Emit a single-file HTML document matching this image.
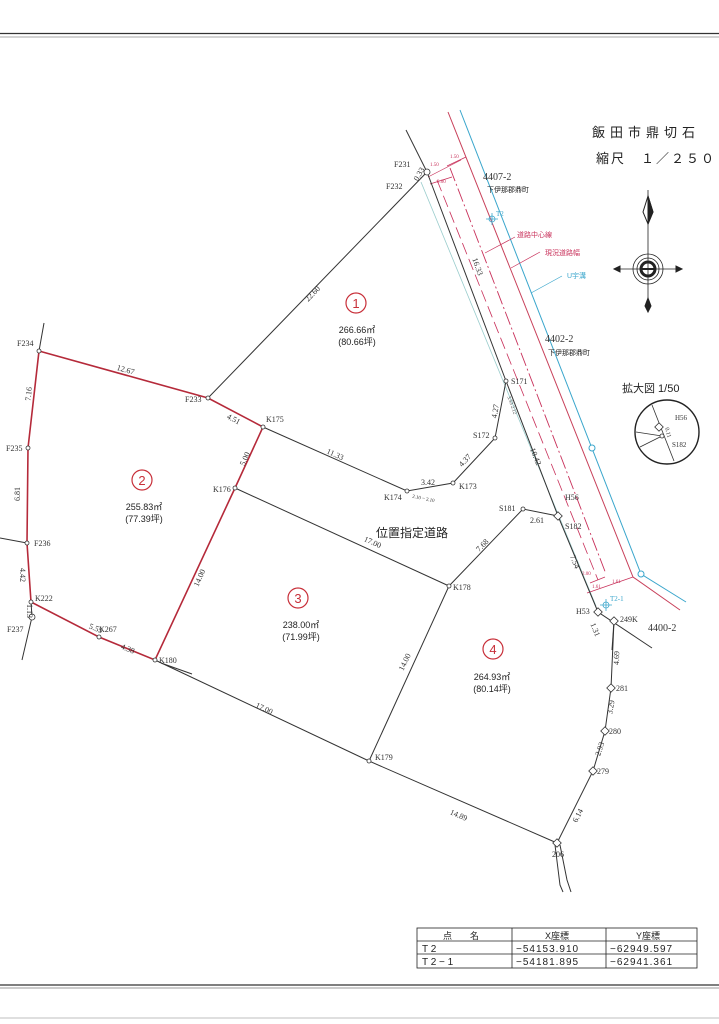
<!DOCTYPE html>
<html><head><meta charset="utf-8"><style>
html,body{margin:0;padding:0;background:#fff}
svg{display:block}
text{font-family:"Liberation Serif","Noto Serif CJK SC",serif;font-size:8px;fill:#333}
.s{font-family:"Liberation Sans","Noto Sans CJK JP",sans-serif}
.k{stroke:#333;stroke-width:1;fill:none}
.r{stroke:#b52a3a;stroke-width:1.6;fill:none}
.p{fill:#fff;stroke:#333;stroke-width:0.8}
.m{fill:#c8305a;font-family:"Liberation Sans","Noto Sans CJK JP",sans-serif}
</style></head><body>
<svg width="719" height="1024" viewBox="0 0 719 1024" xmlns="http://www.w3.org/2000/svg">
<!-- borders -->
<line x1="0" y1="33.5" x2="719" y2="33.5" stroke="#333" stroke-width="1.3"/>
<line x1="0" y1="37" x2="719" y2="37" stroke="#888" stroke-width="0.8"/>
<line x1="0" y1="985" x2="719" y2="985" stroke="#333" stroke-width="1.3"/>
<line x1="0" y1="988" x2="719" y2="988" stroke="#777" stroke-width="0.8"/>
<line x1="0" y1="1018" x2="719" y2="1018" stroke="#aaa" stroke-width="0.8"/>

<!-- title -->
<text x="592" y="137" class="s" style="font-size:13px;fill:#222;letter-spacing:5px">飯田市鼎切石</text>
<text x="596" y="163" class="s" style="font-size:13px;fill:#222;letter-spacing:2px">縮尺　１／２５０</text>

<!-- compass -->
<g stroke="#222" fill="none">
<line x1="648" y1="190" x2="648" y2="312" stroke-width="0.8"/>
<path d="M648 196 L653 212 L648 224 L643 212 Z" fill="#fff"/>
<path d="M648 196 L653 212 L648 224 Z" fill="#222"/>
<line x1="614" y1="269" x2="682" y2="269" stroke-width="0.8"/>
<circle cx="648" cy="269" r="15" stroke-width="0.8"/>
<circle cx="648" cy="269" r="11" stroke-width="0.8"/>
<circle cx="648" cy="269" r="7" stroke-width="3"/>
<path d="M641 269 h14" stroke-width="2"/>
<path d="M648 298 L651 306 L648 312 L645 306 Z" fill="#222"/>
<path d="M614 269 L620 266 L620 272 Z" fill="#222"/>
<path d="M682 269 L676 266 L676 272 Z" fill="#222"/>
</g>

<!-- road lines -->
<polyline points="460,110 641,574 686,602" stroke="#3aa6cc" stroke-width="1" fill="none"/>
<polyline points="448,112 633,577 680,610" stroke="#c8405a" stroke-width="1" fill="none"/>
<line x1="450" y1="168" x2="606" y2="574" stroke="#c8305a" stroke-width="0.9" stroke-dasharray="14,3,2,3"/>
<line x1="437" y1="180" x2="598" y2="580" stroke="#c8305a" stroke-width="0.8" stroke-dasharray="12,5"/>
<line x1="421" y1="182" x2="596" y2="606" stroke="#9cc" stroke-width="0.8"/>
<line x1="428" y1="177" x2="461" y2="160" stroke="#c8305a" stroke-width="0.7"/>
<line x1="447" y1="166" x2="466" y2="157" stroke="#c8305a" stroke-width="0.7"/>
<line x1="430" y1="184" x2="452" y2="177" stroke="#c8305a" stroke-width="0.7"/>
<line x1="587" y1="593" x2="633" y2="577" stroke="#c8305a" stroke-width="0.7"/>
<line x1="590" y1="583" x2="605" y2="577" stroke="#c8305a" stroke-width="0.7"/>
<text x="430" y="166" style="font-size:5px;fill:#c8305a">1.50</text>
<text x="450" y="158" style="font-size:5px;fill:#c8305a">1.50</text>
<text x="437" y="183" style="font-size:5px;fill:#c8305a">2.00</text>
<text x="592" y="588" style="font-size:5px;fill:#c8305a">1.61</text>
<text x="612" y="583" style="font-size:5px;fill:#c8305a">1.61</text>
<text x="582" y="575" style="font-size:5px;fill:#c8305a">2.00</text>
<circle cx="592" cy="448" r="3" fill="#fff" stroke="#3aa6cc"/>
<circle cx="641" cy="574" r="3" fill="#fff" stroke="#3aa6cc"/>
<!-- leader labels -->
<line x1="485" y1="253" x2="515" y2="237" stroke="#c8305a" stroke-width="0.7"/>
<text x="517" y="237" class="m" style="font-size:7px">道路中心線</text>
<line x1="511" y1="268" x2="540" y2="252" stroke="#c8305a" stroke-width="0.7"/>
<text x="545" y="255" class="m" style="font-size:7px">現況道路幅</text>
<line x1="531" y1="293" x2="562" y2="276" stroke="#3aa6cc" stroke-width="0.7"/>
<text x="567" y="278" class="s" style="font-size:7px;fill:#3aa6cc">U宇溝</text>
<g stroke="#3aa6cc" fill="none" stroke-width="0.8"><circle cx="492" cy="219" r="3"/><path d="M486 219h12M492 213v12"/></g>
<text x="496" y="216" style="font-size:7px;fill:#3aa6cc">T2</text>
<g stroke="#3aa6cc" fill="none" stroke-width="0.8"><circle cx="606" cy="605" r="3"/><path d="M600 605h12M606 599v12"/></g>
<text x="610" y="601" style="font-size:7px;fill:#3aa6cc">T2-1</text>

<text x="483" y="180" style="font-size:10px">4407-2</text>
<text x="487" y="192" class="s" style="font-size:7px;fill:#222">下伊那郡鼎町</text>
<text x="545" y="342" style="font-size:10px">4402-2</text>
<text x="548" y="355" class="s" style="font-size:7px;fill:#222">下伊那郡鼎町</text>
<text x="648" y="631" style="font-size:10px">4400-2</text>

<!-- enlarged -->
<text x="622" y="392" class="s" style="font-size:11px;fill:#222">拡大図 1/50</text>
<circle cx="667" cy="432" r="32" fill="none" stroke="#222" stroke-width="1.4"/>
<line x1="652" y1="405" x2="674" y2="461" stroke="#333" stroke-width="0.8"/>
<line x1="636" y1="432" x2="662" y2="436" stroke="#333" stroke-width="0.8"/>
<line x1="640" y1="447" x2="662" y2="436" stroke="#333" stroke-width="0.8"/>
<rect x="656" y="424" width="6" height="6" transform="rotate(45 659 427)" class="p"/>
<circle cx="662" cy="436" r="2" class="p"/>
<text x="675" y="420" style="font-size:7px">H56</text>
<text x="672" y="447" style="font-size:7px">S182</text>
<text x="665" y="428" style="font-size:6px" transform="rotate(75 665 428)">0.11</text>

<!-- main black lines -->
<g class="k">
<line x1="406" y1="130" x2="427" y2="172"/>
<polyline points="427,172 506,381 558,516 598,612 652,648"/>
<line x1="427" y1="172" x2="208" y2="398"/>
<polyline points="263,427 407,491 453,483 495,438 506,381"/>
<line x1="235" y1="488" x2="449" y2="586"/>
<polyline points="449,586 523,509 558,516"/>
<line x1="449" y1="586" x2="369" y2="761"/>
<polyline points="155,660 369,761 557,843"/>
<polyline points="557,843 593,771 605,731 611,688 614,621"/>
<line x1="39" y1="351" x2="44" y2="323"/>
<line x1="0" y1="538" x2="27" y2="543"/>
<polyline points="31,602 32,617 22,660"/>
<polyline points="555,845 560,885 563,892"/>
<polyline points="560,845 567,880 571,892"/>
<line x1="161" y1="663" x2="192" y2="674"/>
<line x1="614" y1="621" x2="612" y2="650"/>
</g>
<!-- red lot 2 -->
<polyline class="r" points="39,351 208,398 263,427 235,488 155,660 99,637 31,602 27,543 28,448 39,351"/>

<!-- points -->
<g>
<circle cx="427" cy="172" r="3" class="p"/><circle cx="39" cy="351" r="2" class="p"/>
<circle cx="208" cy="398" r="2" class="p"/><circle cx="263" cy="427" r="2" class="p"/>
<circle cx="28" cy="448" r="2" class="p"/><circle cx="27" cy="543" r="2" class="p"/>
<circle cx="31" cy="602" r="2" class="p"/><circle cx="32" cy="617" r="3" class="p"/>
<circle cx="99" cy="637" r="2" class="p"/><circle cx="155" cy="660" r="2" class="p"/>
<circle cx="235" cy="488" r="2" class="p"/><circle cx="506" cy="381" r="2" class="p"/>
<circle cx="495" cy="438" r="2" class="p"/><circle cx="453" cy="483" r="2" class="p"/>
<circle cx="407" cy="491" r="2" class="p"/><circle cx="523" cy="509" r="2" class="p"/>
<circle cx="449" cy="586" r="2" class="p"/><circle cx="369" cy="761" r="2" class="p"/>
<rect x="555" y="513" width="6" height="6" transform="rotate(45 558 516)" class="p"/>
<rect x="595" y="609" width="6" height="6" transform="rotate(45 598 612)" class="p"/>
<rect x="611" y="618" width="6" height="6" transform="rotate(45 614 621)" class="p"/>
<rect x="608" y="685" width="6" height="6" transform="rotate(45 611 688)" class="p"/>
<rect x="602" y="728" width="6" height="6" transform="rotate(45 605 731)" class="p"/>
<rect x="590" y="768" width="6" height="6" transform="rotate(45 593 771)" class="p"/>
<rect x="554" y="840" width="6" height="6" transform="rotate(45 557 843)" class="p"/>
</g>

<!-- point labels -->
<text x="394" y="167">F231</text><text x="386" y="189">F232</text>
<text x="17" y="346">F234</text><text x="185" y="402">F233</text>
<text x="266" y="422">K175</text><text x="6" y="451">F235</text>
<text x="34" y="546">F236</text><text x="35" y="601">K222</text>
<text x="7" y="632">F237</text><text x="99" y="632">K267</text>
<text x="159" y="663">K180</text><text x="213" y="492">K176</text>
<text x="511" y="384">S171</text><text x="473" y="438">S172</text>
<text x="459" y="489">K173</text><text x="384" y="500">K174</text>
<text x="499" y="511">S181</text><text x="565" y="500">H56</text>
<text x="565" y="529">S182</text><text x="453" y="590">K178</text>
<text x="375" y="760">K179</text><text x="552" y="857">206</text>
<text x="576" y="614">H53</text><text x="620" y="622">249K</text>
<text x="616" y="691">281</text><text x="609" y="734">280</text>
<text x="597" y="774">279</text>

<!-- dimension labels -->
<text x="300" y="297" transform="rotate(-46 310 290)">22.60</text>
<text x="116" y="372" transform="rotate(16 124 372)">12.67</text>
<text x="226" y="421" transform="rotate(28 232 420)">4.51</text>
<text x="326" y="457" transform="rotate(24 335 455)">11.33</text>
<text x="421" y="485">3.42</text>
<text x="458" y="462" transform="rotate(-47 466 460)">4.37</text>
<text x="486" y="414" transform="rotate(-80 494 410)">4.27</text>
<text x="470" y="266" transform="rotate(70 476 264)">16.33</text>
<text x="528" y="456" transform="rotate(68 534 454)">10.42</text>
<text x="568" y="563" transform="rotate(68 574 561)">7.54</text>
<text x="530" y="523">2.61</text>
<text x="475" y="548" transform="rotate(-46 482 545)">7.68</text>
<text x="239" y="462" transform="rotate(-66 245 460)">5.00</text>
<text x="191" y="584" transform="rotate(-66 197 580)">14.00</text>
<text x="364" y="544" transform="rotate(24 371 541)">17.00</text>
<text x="398" y="667" transform="rotate(-65 404 665)">14.00</text>
<text x="255" y="711" transform="rotate(25 264 709)">17.00</text>
<text x="450" y="817" transform="rotate(23 457 814)">14.89</text>
<text x="569" y="818" transform="rotate(-63 577 814)">6.14</text>
<text x="594" y="752" transform="rotate(-72 600 750)">2.93</text>
<text x="605" y="712" transform="rotate(-80 610 709)">3.29</text>
<text x="611" y="663" transform="rotate(-88 616 660)">4.69</text>
<text x="589" y="630" transform="rotate(68 594 628)">1.31</text>
<text x="89" y="631" transform="rotate(22 96 628)">5.55</text>
<text x="121" y="651" transform="rotate(22 127 648)">4.38</text>
<text x="24" y="398" transform="rotate(-84 29 396)">7.16</text>
<text x="15" y="496" transform="rotate(-90 20 496)">6.81</text>
<text x="16" y="572" transform="rotate(90 20 572)">4.42</text>
<text x="18" y="603" transform="rotate(90 22 608)">1.13</text>
<text x="414" y="179" transform="rotate(-60 418 177)">0.33</text>
<text x="508" y="400" style="font-size:5px" transform="rotate(70 510 398)">3.53 2.12</text>
<text x="412" y="498" style="font-size:5px" transform="rotate(12 414 498)">2.10 ~ 2.10</text>

<!-- lot labels -->
<g fill="none" stroke="#c8303a" stroke-width="1.2">
<circle cx="356" cy="303" r="10"/><circle cx="142" cy="480" r="10"/>
<circle cx="298" cy="598" r="10"/><circle cx="493" cy="649" r="10"/>
</g>
<g class="s" style="font-size:13px;fill:#c8303a" text-anchor="middle">
<text x="356" y="308" class="s" style="font-size:13px;fill:#c8303a">1</text>
<text x="142" y="485" class="s" style="font-size:13px;fill:#c8303a">2</text>
<text x="298" y="603" class="s" style="font-size:13px;fill:#c8303a">3</text>
<text x="493" y="654" class="s" style="font-size:13px;fill:#c8303a">4</text>
</g>
<g class="s" text-anchor="middle">
<text x="357" y="333" class="s" style="font-size:9px;fill:#222">266.66㎡</text>
<text x="357" y="345" class="s" style="font-size:9px;fill:#222">(80.66坪)</text>
<text x="144" y="510" class="s" style="font-size:9px;fill:#222">255.83㎡</text>
<text x="144" y="522" class="s" style="font-size:9px;fill:#222">(77.39坪)</text>
<text x="301" y="628" class="s" style="font-size:9px;fill:#222">238.00㎡</text>
<text x="301" y="640" class="s" style="font-size:9px;fill:#222">(71.99坪)</text>
<text x="492" y="680" class="s" style="font-size:9px;fill:#222">264.93㎡</text>
<text x="492" y="692" class="s" style="font-size:9px;fill:#222">(80.14坪)</text>
</g>
<text x="376" y="537" class="s" style="font-size:12px;fill:#222">位置指定道路</text>

<!-- table -->
<g stroke="#222" fill="none" stroke-width="0.8">
<rect x="417" y="928" width="280" height="40"/>
<line x1="417" y1="941" x2="697" y2="941"/><line x1="417" y1="954" x2="697" y2="954"/>
<line x1="512" y1="928" x2="512" y2="968"/><line x1="606" y1="928" x2="606" y2="968"/>
</g>
<g class="s" style="font-size:10px">
<text x="443" y="939" class="s" style="font-size:9px;fill:#222">点　　名</text>
<text x="545" y="939" class="s" style="font-size:9px;fill:#222">X座標</text>
<text x="636" y="939" class="s" style="font-size:9px;fill:#222">Y座標</text>
<text x="422" y="952" class="s" style="font-size:10px;fill:#222">T 2</text>
<text x="422" y="965" class="s" style="font-size:10px;fill:#222">T 2 − 1</text>
<text x="516" y="952" class="s" style="font-size:10px;fill:#222;letter-spacing:1px">−54153.910</text>
<text x="516" y="965" class="s" style="font-size:10px;fill:#222;letter-spacing:1px">−54181.895</text>
<text x="610" y="952" class="s" style="font-size:10px;fill:#222;letter-spacing:1px">−62949.597</text>
<text x="610" y="965" class="s" style="font-size:10px;fill:#222;letter-spacing:1px">−62941.361</text>
</g>
</svg>
</body></html>
